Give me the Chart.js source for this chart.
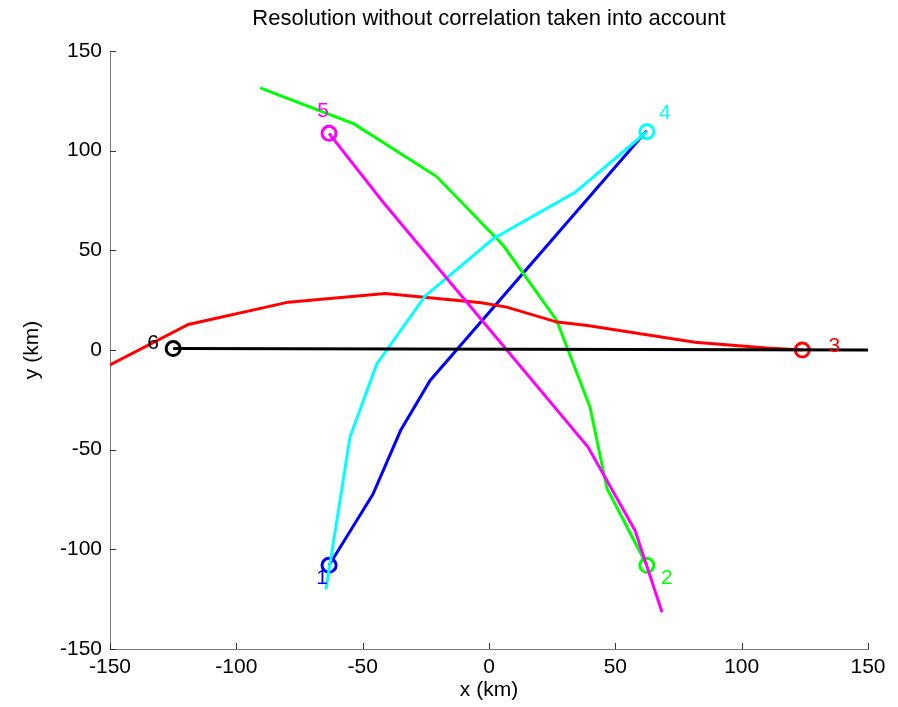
<!DOCTYPE html>
<html>
<head>
<meta charset="utf-8">
<script src="https://cdn.jsdelivr.net/npm/chart.js@4.4.1/dist/chart.umd.min.js"></script>
<style>
  body { margin: 0; background: #fff; }
</style>
</head>
<body>
<canvas id="myChart" width="898" height="707"></canvas>
<script>
// tracks (km)
const blueX = [-63.3, -46, -35, -23.3, 62.4];
const blueY = [-108, -72.5, -40.4, -15.3, 110];
const greenX = [-90.6, -53.4, -20.7, 5.7, 26.8, 40, 46.7, 62.5];
const greenY = [131.5, 113.4, 87, 52.4, 14.8, -28.7, -69.5, -108];
const redX = [-150, -119, -79.4, -41, -3, 7, 27, 39, 81.5, 110, 124];
const redY = [-7.5, 12.8, 24, 28.3, 23.7, 21.5, 14, 12.3, 3.9, 1, 0];
const cyanX = [-64.5, -55, -44.4, -25.3, 1.7, 34, 62.5];
const cyanY = [-120, -43.7, -7, 27, 55.8, 79, 109.5];
const magentaX = [-63.3, -41.8, 39.2, 57.8, 68.5];
const magentaY = [108.7, 74, -48.7, -90.5, -131.6];
const blackX = [-125, 150];
const blackY = [0.7, 0];

// sensors
const sensorNames = ['1', '2', '3', '4', '5', '6'];
const sensorX = [-63.3, 62.5, 124, 62.5, -63.3, -125];
const sensorY = [-108, -108, 0, 109.5, 108.7, 0.7];
const sensorColors = ['#0000ff', '#00ff00', '#ff0000', '#00ffff', '#ff00ff', '#000000'];
const labelOffsets = [[-7, 13], [20, 13], [32, -4], [18, -19], [-6, -22], [-20, -5]];

const tickValues = [-150, -100, -50, 0, 50, 100, 150];

const pts = (xs, ys) => xs.map((x, i) => ({ x: x, y: ys[i] }));

function track(xs, ys, color) {
  return {
    type: 'line',
    data: pts(xs, ys),
    borderColor: color,
    borderWidth: 3,
    pointRadius: 0,
    fill: false,
    tension: 0
  };
}

const FONT = 'Liberation Sans, Arial, Helvetica, sans-serif';

const extras = {
  id: 'extras',
  afterDatasetsDraw(chart) {
    const ctx = chart.ctx;
    const xs = chart.scales.x, ys = chart.scales.y;
    ctx.save();
    // sensor numbers
    ctx.font = '21px ' + FONT;
    ctx.textAlign = 'center';
    ctx.textBaseline = 'middle';
    sensorNames.forEach((n, i) => {
      ctx.fillStyle = sensorColors[i];
      ctx.fillText(n, xs.getPixelForValue(sensorX[i]) + labelOffsets[i][0],
                      ys.getPixelForValue(sensorY[i]) + labelOffsets[i][1]);
    });
    // inward tick marks
    ctx.strokeStyle = '#333';
    ctx.lineWidth = 1;
    ctx.beginPath();
    tickValues.forEach(v => {
      const px = Math.round(xs.getPixelForValue(v)) + 0.5;
      ctx.moveTo(px, chart.chartArea.bottom);
      ctx.lineTo(px, chart.chartArea.bottom - 6);
      const py = Math.round(ys.getPixelForValue(v)) + 0.5;
      ctx.moveTo(chart.chartArea.left, py);
      ctx.lineTo(chart.chartArea.left + 6, py);
    });
    ctx.stroke();
    // title
    ctx.fillStyle = '#000';
    ctx.font = '22px ' + FONT;
    ctx.textBaseline = 'middle';
    ctx.fillText('Resolution without correlation taken into account',
                 (chart.chartArea.left + chart.chartArea.right) / 2, 19);
    ctx.restore();
  }
};

const ctx = document.getElementById('myChart').getContext('2d');
const myChart = new Chart(ctx, {
  type: 'scatter',
  data: {
    datasets: [
      track(blackX, blackY, '#000000'),
      track(magentaX, magentaY, '#ff00ff'),
      track(cyanX, cyanY, '#00ffff'),
      track(redX, redY, '#ff0000'),
      track(greenX, greenY, '#00ff00'),
      track(blueX, blueY, '#0000ff'),
      {
        type: 'scatter',
        data: pts(sensorX, sensorY),
        pointStyle: 'circle',
        pointRadius: 7,
        pointBorderWidth: 3,
        pointBorderColor: sensorColors,
        pointBackgroundColor: 'rgba(0,0,0,0)'
      }
    ]
  },
  options: {
    responsive: false,
    animation: false,
    devicePixelRatio: 1,
    layout: { padding: { top: 51, right: 30, bottom: 0, left: 0 } },
    plugins: {
      legend: { display: false },
      tooltip: { enabled: false }
    },
    scales: {
      x: {
        type: 'linear',
        min: -150,
        max: 150,
        afterFit: s => { s.height = 58; },
        afterBuildTicks: s => { s.ticks = tickValues.map(v => ({ value: v })); },
        grid: { display: false, drawTicks: false },
        border: { display: true, color: '#777', width: 1 },
        ticks: { color: '#000', padding: 6, font: { family: FONT, size: 21 } },
        title: { display: true, text: 'x (km)', color: '#000', padding: { top: 0, bottom: 4 },
                 font: { family: FONT, size: 21 } }
      },
      y: {
        type: 'linear',
        min: -150,
        max: 150,
        afterFit: s => { s.width = 110; },
        afterBuildTicks: s => { s.ticks = tickValues.map(v => ({ value: v })); },
        grid: { display: false, drawTicks: false },
        border: { display: true, color: '#777', width: 1 },
        ticks: { color: '#000', padding: 8, font: { family: FONT, size: 21 } },
        title: { display: true, text: 'y (km)', color: '#000', padding: { top: 20, bottom: 0 },
                 font: { family: FONT, size: 21 } }
      }
    }
  },
  plugins: [extras]
});
</script>
</body>
</html>
